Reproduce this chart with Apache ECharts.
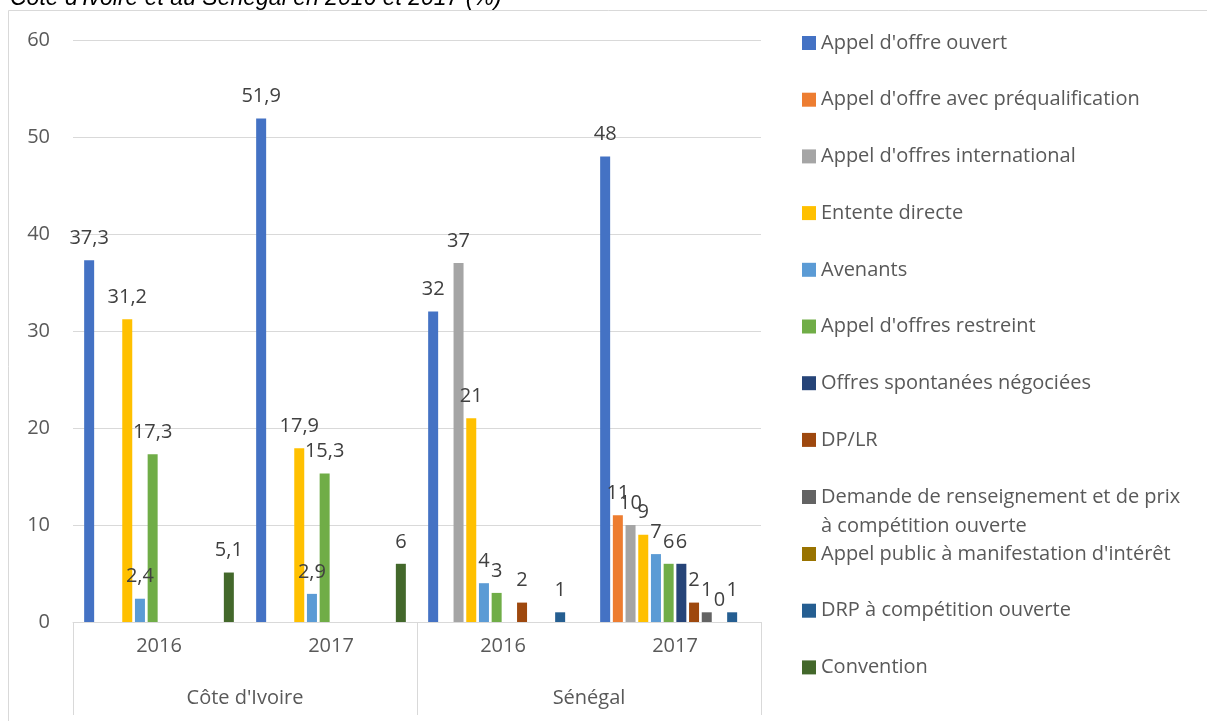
<!DOCTYPE html>
<html>
<head>
<meta charset="utf-8">
<script src="https://cdn.jsdelivr.net/npm/echarts@6/dist/echarts.min.js"></script>
<style>
html,body{margin:0;padding:0;background:#fff;}
#chart{width:1207px;height:721px;}
</style>
</head>
<body>
<div id="chart"></div>
<script>
var years = ['2016', '2017', '2016', '2017'];
var countries = ["Côte d'Ivoire", 'Sénégal'];
var yTicks = [0, 10, 20, 30, 40, 50, 60];
var titleText = "Côte d'Ivoire et au Sénégal en 2016 et 2017 (%)";

var seriesNames = [
  "Appel d'offre ouvert",
  "Appel d'offre avec préqualification",
  "Appel d'offres international",
  "Entente directe",
  "Avenants",
  "Appel d'offres restreint",
  "Offres spontanées négociées",
  "DP/LR",
  "Demande de renseignement et de prix à compétition ouverte",
  "Appel public à manifestation d'intérêt",
  "DRP à compétition ouverte",
  "Convention"
];
var appelOuvert      = [37.3, 51.9, 32, 48];
var appelPrequal     = [null, null, null, 11];
var appelIntl        = [null, null, 37, 10];
var ententeDirecte   = [31.2, 17.9, 21, 9];
var avenants         = [2.4, 2.9, 4, 7];
var appelRestreint   = [17.3, 15.3, 3, 6];
var offresSpont      = [null, null, null, 6];
var dpLr             = [null, null, 2, 2];
var demandeRens      = [null, null, null, 1];
var appelPublic      = [null, null, null, 0];
var drp              = [null, null, 1, 1];
var convention       = [5.1, 6, null, null];

var seriesValues = [appelOuvert, appelPrequal, appelIntl, ententeDirecte, avenants,
  appelRestreint, offresSpont, dpLr, demandeRens, appelPublic, drp, convention];
var colors = ['#4472C4', '#ED7D31', '#A5A5A5', '#FFC000', '#5B9BD5', '#70AD47',
  '#264478', '#9E480E', '#636363', '#997300', '#255E91', '#43682B'];

var FONT = 'Open Sans';
var chart = echarts.init(document.getElementById('chart'), null, {renderer: 'canvas'});

var series = seriesNames.map(function (name, i) {
  return {
    name: name,
    type: 'bar',
    xAxisIndex: 0,
    yAxisIndex: 0,
    barWidth: 10,
    barGap: '27%',
    itemStyle: {color: colors[i]},
    label: {
      show: true,
      position: 'top',
      distance: 12,
      color: '#404040',
      fontFamily: FONT,
      fontSize: 20,
      formatter: function (p) {
        if (p.value === null || p.value === undefined || p.value === '-') return '';
        return String(p.value).replace('.', ',');
      }
    },
    data: seriesValues[i]
  };
});

var legendText = {fontFamily: FONT, fontSize: 20, color: '#595959', lineHeight: 24};
function legendNames(arr) { return arr.map(function (n) { return {name: n}; }); }
var demandeName = seriesNames[8];

var option = {
  animation: false,
  color: colors,
  graphic: [
    {type: 'rect', shape: {x: 8.5, y: 10.5, width: 1210, height: 730},
     style: {fill: 'none', stroke: '#d9d9d9', lineWidth: 1}, silent: true},
    {type: 'text', left: 10, top: -13,
     style: {text: titleText, font: 'italic 23px "Liberation Sans"', fill: '#000'}}
  ],
  grid: {left: 73, right: 446, top: 40, bottom: 99, containLabel: false},
  legend: [
    {
      orient: 'vertical', left: 802, top: 31, padding: 0,
      itemWidth: 14, itemHeight: 14, itemGap: 32.7, icon: 'rect',
      selectedMode: false,
      textStyle: legendText,
      data: legendNames(seriesNames.slice(0, 8))
    },
    {
      orient: 'vertical', left: 802, top: 453.5, padding: 0,
      itemWidth: 14, itemHeight: 14, icon: 'rect',
      selectedMode: false,
      formatter: function (n) {
        return n === demandeName ? ' \nDemande de renseignement et de prix\nà compétition ouverte' : n;
      },
      textStyle: {fontFamily: FONT, fontSize: 20, color: '#595959', lineHeight: 29},
      data: legendNames([demandeName])
    },
    {
      orient: 'vertical', left: 802, top: 542, padding: 0,
      itemWidth: 14, itemHeight: 14, itemGap: 32.7, icon: 'rect',
      selectedMode: false,
      textStyle: legendText,
      data: legendNames(seriesNames.slice(9))
    }
  ],
  xAxis: [
    {
      type: 'category', data: years, position: 'bottom',
      axisLine: {show: true, lineStyle: {color: '#d9d9d9', width: 1}},
      axisTick: {show: false},
      axisLabel: {margin: 14, color: '#595959', fontFamily: FONT, fontSize: 20, interval: 0},
      splitLine: {show: false}
    },
    {
      type: 'category', data: countries, position: 'bottom', offset: 0,
      axisLine: {show: false},
      axisTick: {show: true, length: 93, interval: 0, lineStyle: {color: '#d9d9d9', width: 1}},
      axisLabel: {margin: 66, color: '#595959', fontFamily: FONT, fontSize: 20, interval: 0},
      splitLine: {show: false}
    }
  ],
  yAxis: {
    type: 'value', min: yTicks[0], max: yTicks[yTicks.length - 1], interval: 10,
    axisLine: {show: false},
    axisTick: {show: false},
    axisLabel: {margin: 23, color: '#595959', fontFamily: FONT, fontSize: 20},
    splitLine: {show: true, lineStyle: {color: '#d9d9d9', width: 1}}
  },
  series: series
};
chart.setOption(option);
</script>
</body>
</html>
